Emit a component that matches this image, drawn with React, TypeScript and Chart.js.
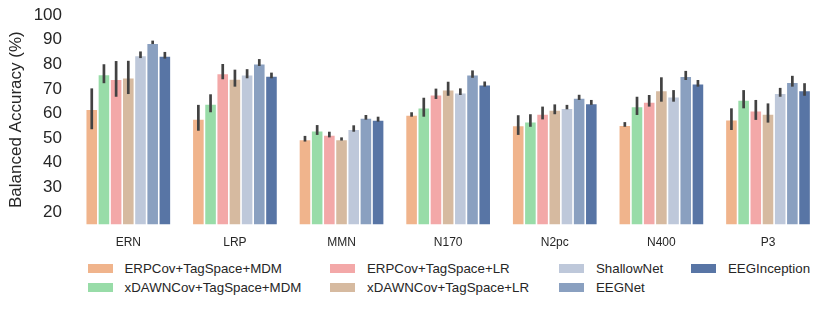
import React, { useEffect, useRef } from "react";
import { Chart, registerables } from "chart.js";

Chart.register(...registerables);

const categories = ["ERN", "LRP", "MMN", "N170", "N2pc", "N400", "P3"];
const seriesNames = [
  "ERPCov+TagSpace+MDM",
  "xDAWNCov+TagSpace+MDM",
  "ERPCov+TagSpace+LR",
  "xDAWNCov+TagSpace+LR",
  "ShallowNet",
  "EEGNet",
  "EEGInception",
];
const seriesColors = ["#F0B48C", "#98DCA8", "#F3A8A8", "#D6BAA0", "#BEC8DA", "#8AA0C0", "#5875A5"];

const erpMdm = [61.7, 57.8, 49.5, 59.4, 55.1, 55.2, 57.5];
const xdawnMdm = [75.9, 63.9, 53.0, 62.4, 56.7, 62.9, 65.5];
const erpLr = [73.9, 76.3, 51.3, 67.6, 59.8, 64.7, 61.1];
const xdawnLr = [74.5, 74.0, 49.5, 69.7, 61.4, 69.4, 59.8];
const shallowNet = [83.6, 75.8, 53.6, 68.4, 62.2, 66.8, 68.2];
const eegNet = [88.5, 80.2, 58.2, 75.8, 66.3, 75.1, 72.7];
const eegInception = [83.4, 75.2, 57.4, 71.7, 64.1, 72.1, 69.4];

const erpMdmLo = [53.6, 53.0, 48.6, 58.7, 51.3, 54.6, 53.3];
const erpMdmHi = [70.2, 63.5, 50.9, 60.5, 59.3, 56.5, 62.1];
const xdawnMdmLo = [72.3, 60.5, 51.3, 58.7, 54.6, 59.4, 62.1];
const xdawnMdmHi = [80.0, 67.8, 55.3, 66.4, 59.7, 66.8, 69.5];
const erpLrLo = [66.8, 73.9, 50.3, 65.9, 57.6, 62.8, 57.4];
const erpLrHi = [81.3, 80.1, 52.6, 70.1, 62.8, 67.5, 65.5];
const xdawnLrLo = [67.9, 70.9, 49.0, 67.2, 59.7, 64.8, 56.3];
const xdawnLrHi = [81.4, 77.8, 50.3, 72.9, 63.7, 74.7, 64.1];
const shallowLo = [82.5, 74.3, 52.6, 67.5, 61.7, 64.8, 66.8];
const shallowHi = [85.2, 78.0, 55.2, 70.2, 63.5, 69.5, 70.4];
const eegNetLo = [88.2, 79.3, 57.5, 74.5, 65.5, 73.6, 70.9];
const eegNetHi = [89.6, 82.1, 59.4, 77.5, 67.6, 77.3, 75.3];
const eegIncLo = [82.3, 74.3, 56.7, 70.9, 63.5, 70.9, 67.2];
const eegIncHi = [85.0, 76.6, 58.7, 73.0, 65.5, 73.6, 72.3];

const yTicks = [20, 30, 40, 50, 60, 70, 80, 90, 100];
const yMin = 15;
const yMax = 100;

const seriesValues = [erpMdm, xdawnMdm, erpLr, xdawnLr, shallowNet, eegNet, eegInception];
const seriesLo = [erpMdmLo, xdawnMdmLo, erpLrLo, xdawnLrLo, shallowLo, eegNetLo, eegIncLo];
const seriesHi = [erpMdmHi, xdawnMdmHi, erpLrHi, xdawnLrHi, shallowHi, eegNetHi, eegIncHi];

// legend in column-major order (matplotlib ncol=4)
const legendColumns = [[0, 1], [2, 3], [4, 5], [6]];

const FONT = "'Liberation Sans', Arial, sans-serif";
const TEXT = "#262626";

const errorBarPlugin = {
  id: "errorBars",
  afterDatasetsDraw(chart: any) {
    const { ctx } = chart;
    const yScale = chart.scales.y;
    ctx.save();
    ctx.strokeStyle = "#424242";
    ctx.lineWidth = 2.7;
    ctx.lineCap = "butt";
    chart.data.datasets.forEach((ds: any, i: number) => {
      const meta = chart.getDatasetMeta(i);
      meta.data.forEach((el: any, j: number) => {
        const y1 = yScale.getPixelForValue(ds.errLo[j]);
        const y2 = yScale.getPixelForValue(ds.errHi[j]);
        ctx.beginPath();
        ctx.moveTo(el.x, y1);
        ctx.lineTo(el.x, y2);
        ctx.stroke();
      });
    });
    ctx.restore();
  },
};

export default function App() {
  const ref = useRef<HTMLCanvasElement | null>(null);

  useEffect(() => {
    if (!ref.current) return;
    const chart = new Chart(ref.current, {
      type: "bar",
      data: {
        labels: categories,
        datasets: seriesNames.map((name, i) => ({
          label: name,
          data: seriesValues[i],
          errLo: seriesLo[i],
          errHi: seriesHi[i],
          backgroundColor: seriesColors[i],
          borderColor: "#ffffff",
          borderWidth: { left: 0.8, right: 0.8, top: 0.8, bottom: 0 },
          borderSkipped: false,
          categoryPercentage: 0.8,
          barPercentage: 1.0,
        })) as any,
      },
      options: {
        animation: false,
        responsive: false,
        devicePixelRatio: 1,
        layout: { padding: { left: 0, right: 9.7, top: 15, bottom: 0 } },
        plugins: {
          legend: { display: false },
          tooltip: { enabled: false },
        },
        scales: {
          x: {
            grid: { display: false, drawTicks: false },
            border: { display: false },
            ticks: { color: TEXT, font: { family: FONT, size: 12 }, padding: 11 },
            afterFit: (s: any) => {
              s.height = 25.7;
              s.paddingLeft = 0;
              s.paddingRight = 0;
            },
          },
          y: {
            min: yMin,
            max: yMax,
            grid: { display: false, drawTicks: false },
            border: { display: false },
            ticks: { color: TEXT, font: { family: FONT, size: 17 }, padding: 13 },
            afterBuildTicks: (s: any) => {
              s.ticks = yTicks.map((v) => ({ value: v }));
            },
            afterFit: (s: any) => {
              s.width = 75;
              s.paddingTop = 0;
              s.paddingBottom = 0;
            },
            title: {
              display: true,
              text: "Balanced Accuracy (%)",
              color: TEXT,
              font: { family: FONT, size: 17 },
              padding: { top: 6.5, bottom: 0 },
            },
          },
        },
      },
      plugins: [errorBarPlugin],
    });
    return () => chart.destroy();
  }, []);

  const colLefts = [87.5, 330, 559, 691];

  return (
    <div style={{ position: "absolute", left: 0, top: 0, width: 831, height: 310, background: "#fff" }}>
      <canvas ref={ref} width={831} height={250} style={{ display: "block", width: 831, height: 250 }} />
      {legendColumns.map((col, ci) =>
        col.map((si, ri) => (
          <div
            key={si}
            style={{
              position: "absolute",
              left: colLefts[ci],
              top: 258.5 + ri * 19,
              height: 19,
              display: "flex",
              alignItems: "center",
              whiteSpace: "nowrap",
              fontFamily: FONT,
              fontSize: 13.3,
              color: TEXT,
            }}
          >
            <span
              style={{
                display: "inline-block",
                width: 25,
                height: 9,
                background: seriesColors[si],
                marginRight: 12,
              }}
            />
            <span>{seriesNames[si]}</span>
          </div>
        ))
      )}
    </div>
  );
}
